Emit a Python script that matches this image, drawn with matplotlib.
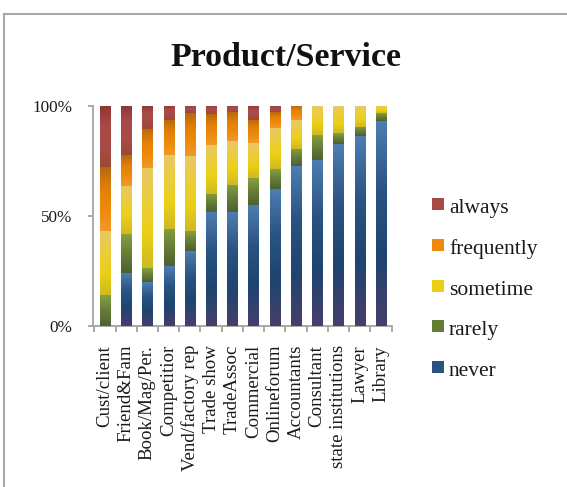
import numpy as np
import matplotlib
matplotlib.use("Agg")
import matplotlib.pyplot as plt
from matplotlib.colors import LinearSegmentedColormap
from matplotlib.patches import Rectangle
from matplotlib.lines import Line2D

categories = ["Cust/client", "Friend&Fam", "Book/Mag/Per.", "Competitior",
              "Vend/factory rep", "Trade show", "TradeAssoc", "Commercial",
              "Onlineforum", "Accountants", "Consultant", "state institutions",
              "Lawyer", "Library"]

never      = [0, 24, 20, 27, 34, 51.5, 51.5, 55, 62, 72.5, 75.5, 82.5, 86, 93]
rarely     = [14, 17.5, 6, 17, 9, 8.5, 12.5, 12, 9, 8, 11, 5, 4.5, 3.5]
sometime   = [29, 22, 45.5, 33.5, 34, 22, 20, 16, 19, 13, 13.5, 12.5, 9.5, 3.5]
frequently = [29, 14, 18, 16, 19.5, 14, 13, 10.5, 7, 6.5, 0, 0, 0, 0]
always     = [28, 22.5, 10.5, 6.5, 3.5, 4, 3, 6.5, 3, 0, 0, 0, 0, 0]

series_names = ["never", "rarely", "sometime", "frequently", "always"]
series_vals = [never, rarely, sometime, frequently, always]
y_tick_labels = ["0%", "50%", "100%"]

# gradient stops for each series, bottom -> top
grad_stops = {
    "never":      ["#463f6a", "#1e4570", "#2a5382", "#4d7db2"],
    "rarely":     ["#4c6230", "#667d37", "#87a040"],
    "sometime":   ["#cdb922", "#ebcf14", "#eccd3c", "#e8c866"],
    "frequently": ["#f09a2a", "#ee8a08", "#e27f08", "#b8680c"],
    "always":     ["#9a4a34", "#a84a47", "#aa4b48", "#8e3532"],
}
main_color = {
    "never": "#2a5382", "rarely": "#667d37", "sometime": "#ebcf14",
    "frequently": "#ee8a08", "always": "#a84a47",
}

serif = ["Liberation Serif", "DejaVu Serif"]
axis_gray = "#a3a3a3"

W, H = 567, 487
fig = plt.figure(figsize=(W / 100, H / 100), dpi=100)
fig.patch.set_facecolor("white")

# axes placed in pixel terms
ax_l, ax_r, ax_t, ax_b = 93, 392, 105.7, 325.5
ax = fig.add_axes([ax_l / W, 1 - ax_b / H, (ax_r - ax_l) / W, (ax_b - ax_t) / H])

x = np.arange(len(categories))
vals = np.array(series_vals, dtype=float)
vals = vals / vals.sum(axis=0) * 100.0
bottom = np.zeros(len(categories))
containers = []
for name, v in zip(series_names, vals):
    bc = ax.bar(x, v / 100.0, width=0.48, bottom=bottom / 100.0,
                color=main_color[name], linewidth=0, zorder=2)
    containers.append((name, bc))
    bottom += v

# vertical gradient fill per segment
gy = np.linspace(0, 1, 128).reshape(-1, 1)
for name, bc in containers:
    cmap = LinearSegmentedColormap.from_list(name, grad_stops[name])
    for r in bc:
        h = r.get_height()
        if h <= 0:
            continue
        x0, y0, w = r.get_x(), r.get_y(), r.get_width()
        im = ax.imshow(gy, cmap=cmap, origin="lower", aspect="auto",
                       extent=(x0, x0 + w, y0, y0 + h),
                       interpolation="bilinear", zorder=3)
        im.set_clip_path(r)

ax.set_xlim(-0.56, 13.52)
ax.set_ylim(0, 1)

for s in ["top", "right"]:
    ax.spines[s].set_visible(False)
for s in ["left", "bottom"]:
    ax.spines[s].set_color(axis_gray)
    ax.spines[s].set_linewidth(1.3)

ax.set_yticks([0, 0.5, 1.0])
ax.set_yticklabels(y_tick_labels, fontfamily=serif, fontsize=12.3, color="#1a1a1a")
ax.tick_params(axis="y", direction="out", length=3.5, width=1.3, color=axis_gray, pad=11.5)

ax.set_xticks(x)
ax.set_xticklabels(categories, rotation=90, fontfamily=serif, fontsize=13.6,
                   color="#1a1a1a", ha="center", va="top")
ax.tick_params(axis="x", which="major", length=0, pad=14)
ax.set_xticks(np.arange(-0.5, len(categories)), minor=True)
ax.tick_params(axis="x", which="minor", direction="out", length=4, width=1.3, color=axis_gray)

# title
fig.text(286 / W, 1 - 57 / H, "Product/Service", ha="center", va="center",
         fontfamily=serif, fontweight="bold", fontsize=24.5, color="#111111")

# legend, top entry first
leg_centers = [204, 245, 285.6, 326, 367]
for name, cy in zip(series_names[::-1], leg_centers):
    fig.add_artist(Rectangle(((432) / W, 1 - (cy + 6) / H), 12 / W, 12 / H,
                             transform=fig.transFigure, facecolor=main_color[name],
                             edgecolor="none"))
    fig.text(449 / W, 1 - (cy + 9) / H, name, ha="left", va="baseline",
             fontfamily=serif, fontsize=15.5, color="#1a1a1a")

# chart frame (left and top edges)
fig.add_artist(Line2D([3.5 / W, 3.5 / W], [0, 1 - 14 / H], transform=fig.transFigure,
                      color="#a8a8a8", linewidth=1.5))
fig.add_artist(Line2D([3.5 / W, 1], [1 - 14 / H, 1 - 14 / H], transform=fig.transFigure,
                      color="#a8a8a8", linewidth=1.5))

fig.savefig("out.png", dpi=100, facecolor="white")
